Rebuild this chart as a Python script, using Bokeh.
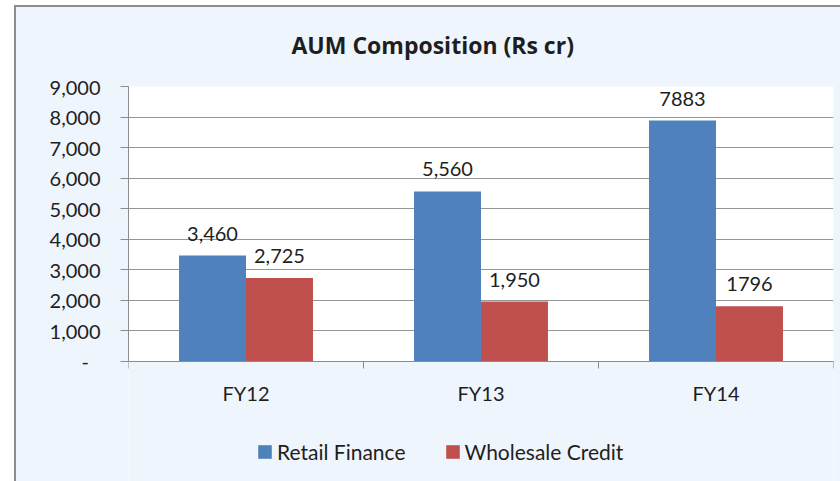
import numpy as np
from bokeh.plotting import figure
from bokeh.models import (ColumnDataSource, Range1d, FixedTicker, NumeralTickFormatter,
                          LabelSet, Legend, LegendItem, LinearAxis)
from bokeh.core.properties import value
from bokeh.transform import dodge
from bokeh.embed import file_html
from bokeh.resources import INLINE

# ---- data ----
categories = ["FY12", "FY13", "FY14"]
retail = [3460, 5560, 7883]
wholesale = [2725, 1950, 1796]
retail_labels = ["3,460", "5,560", "7883"]
wholesale_labels = ["2,725", "1,950", "1796"]
series_names = ["Retail Finance", "Wholesale Credit"]
y_ticks = [0, 1000, 2000, 3000, 4000, 5000, 6000, 7000, 8000, 9000]

BLUE = "#4F81BD"
RED = "#C0504D"
BG = "#EFF5FC"
FONT = "Lato"
TXT = "#1e1e1e"
AXIS = "#8c8c8c"

xpos = list(np.arange(len(categories)) + 0.5)
src = ColumnDataSource(dict(x=xpos, retail=retail, wholesale=wholesale,
                            rl=retail_labels, wl=wholesale_labels))

y_top = max(y_ticks)
# frame reaches the bottom of the chart; the region below 0 holds category labels and legend
p = figure(width=840, height=481, output_backend="svg", toolbar_location=None,
           x_range=Range1d(0, len(categories)), y_range=Range1d(-0.4385 * y_top, y_top),
           x_axis_location=None,
           min_border_left=128, min_border_top=84, min_border_right=7, min_border_bottom=0)
p.border_fill_color = BG
p.background_fill_color = BG
p.outline_line_color = None

# white plot area
plot_area = p.quad(left=0, right=len(categories), bottom=0, top=y_top,
                   fill_color="white", line_color=None)
plot_area.level = "image"

bw = 0.285
r1 = p.vbar(x=dodge("x", -bw / 2), top="retail", width=bw, source=src, fill_color=BLUE, line_color=None)
r2 = p.vbar(x=dodge("x", bw / 2), top="wholesale", width=bw, source=src, fill_color=RED, line_color=None)

# value labels
for col, lab, off in (("retail", "rl", -bw / 2), ("wholesale", "wl", bw / 2)):
    ls = LabelSet(x=dodge("x", off), y=col, text=lab, source=src, text_align="center",
                  text_baseline="alphabetic", y_offset=15, text_font=value(FONT),
                  text_font_size=value("20px"), text_color=TXT)
    p.add_layout(ls)

# title
p.title.text = "AUM Composition (Rs cr)"
p.title.text_font = "Open Sans"
p.title.text_font_style = "bold"
p.title.text_font_size = "23px"
p.title.text_color = TXT
p.title.align = "left"
p.title.offset = 163
p.title.standoff = 52

# x axis at value 0
xa = LinearAxis(fixed_location=0)
xa.ticker = FixedTicker(ticks=xpos, minor_ticks=list(range(len(categories) + 1)))
xa.major_label_overrides = {float(x): c for x, c in zip(xpos, categories)}
xa.major_tick_in = 0
xa.major_tick_out = 0
xa.minor_tick_in = 0
xa.minor_tick_out = 7
xa.minor_tick_line_color = AXIS
xa.axis_line_color = AXIS
xa.major_label_text_font = FONT
xa.major_label_text_font_size = "20px"
xa.major_label_text_color = TXT
xa.major_label_standoff = 13
p.add_layout(xa, "below")
p.xgrid.grid_line_color = None

# y axis
ya = p.yaxis[0]
ya.ticker = FixedTicker(ticks=y_ticks, minor_ticks=[])
ya.bounds = (0, y_top)
ya.formatter = NumeralTickFormatter(format="0,0")
ya.major_label_overrides = {0: "-\u2007"}
ya.major_tick_in = 0
ya.major_tick_out = 8
ya.minor_tick_line_color = None
ya.major_tick_line_color = AXIS
ya.axis_line_color = AXIS
ya.major_label_text_font = FONT
ya.major_label_text_font_size = "20px"
ya.major_label_text_color = TXT
ya.major_label_standoff = 20
p.ygrid.ticker = FixedTicker(ticks=y_ticks)
p.ygrid.grid_line_color = "#969696"

# legend
legend = Legend(items=[LegendItem(label=series_names[0], renderers=[r1]),
                       LegendItem(label=series_names[1], renderers=[r2])],
                location=(128, 17), orientation="horizontal",
                glyph_width=17, glyph_height=17, label_standoff=4, spacing=38,
                padding=0, margin=0, border_line_color=None, background_fill_alpha=0,
                label_text_font=FONT, label_text_font_size="21px", label_text_color=TXT,
                label_height=20)
p.add_layout(legend, "center")

html = file_html(p, INLINE)
# chart-area border (Excel style frame), drawn over the page edge
frame_div = ('<div style="position:fixed;left:14px;top:5px;width:900px;height:900px;'
             'border-left:2px solid #8c8c8c;border-top:2px solid #8c8c8c;'
             'box-shadow:-14px -5px 0 0 #ffffff;pointer-events:none;z-index:10"></div>')
html = html.replace("</body>", frame_div + "</body>")
open("out.html", "w").write(html)
